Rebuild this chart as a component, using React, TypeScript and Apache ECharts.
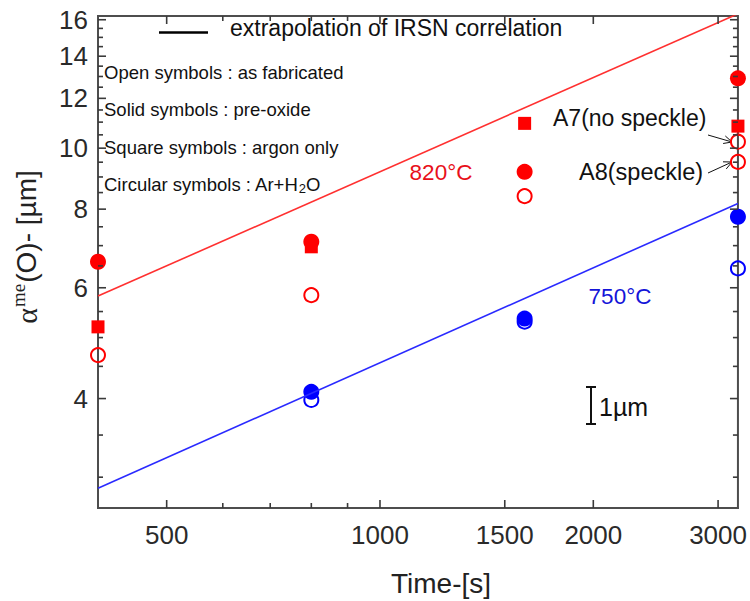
import React, { useEffect, useRef } from "react";
import * as echarts from "echarts";

// ---------- axis ranges & ticks ----------
const X_MIN = 400;
const X_MAX = 3200;
const Y_MIN = 2.68;
const Y_MAX = 16.22;
const xMajorTicks = [500, 1000, 1500, 2000, 3000];
const xMinorTicks = [600, 700, 800, 900];
const yMajorTicks = [4, 6, 8, 10, 12, 14, 16];
const yMinorTicks = [3, 3.5, 4.5, 5, 5.5, 6.5, 7, 7.5, 8.5, 9, 9.5, 10.5, 11, 11.5, 12.5, 13, 13.5, 14.5, 15, 15.5];

// ---------- data (time in s, alpha in µm) ----------
const redSolidCircleTimes = [400, 800, 1600, 3200];
const redSolidCircleValues = [6.6, 7.1, 9.17, 12.91];
const redSolidSquareTimes = [400, 800, 1600, 3200];
const redSolidSquareValues = [5.2, 6.97, 10.95, 10.84];
const redOpenCircleTimes = [400, 800, 1600, 3200, 3200];
const redOpenCircleValues = [4.69, 5.84, 8.39, 10.24, 9.51];
const blueSolidCircleTimes = [800, 1600, 3200];
const blueSolidCircleValues = [4.1, 5.36, 7.78];
const blueOpenCircleTimes = [800, 1600, 3200];
const blueOpenCircleValues = [3.98, 5.3, 6.44];
const correlationTimes = [400, 3200];
const correlation820 = [5.82, 16.35];
const correlation750 = [2.88, 8.17];

const L = (v: number) => Math.log10(v);
const pairs = (ts: number[], vs: number[]) => ts.map((t, i) => [L(t), L(vs[i])]);

const FONT = "'Liberation Sans', Arial, Helvetica, sans-serif";
const SERIF = "'Liberation Serif', 'Times New Roman', serif";
const AXIS_COLOR = "#4d4d4d";
const TICK_COLOR = "#3a3a3a";
const RED = "#ff0000";
const BLUE = "#0000ff";
const MAJOR_LEN = 8;
const MINOR_LEN = 5;

function arrow(x1: number, y1: number, x2: number, y2: number) {
  const a = Math.atan2(y2 - y1, x2 - x1);
  const h = 9;
  const s = 0.45;
  return [
    { type: "line", shape: { x1, y1, x2, y2 }, style: { stroke: "#111", lineWidth: 1 } },
    {
      type: "polyline",
      shape: {
        points: [
          [x2 - h * Math.cos(a - s), y2 - h * Math.sin(a - s)],
          [x2, y2],
          [x2 - h * Math.cos(a + s), y2 - h * Math.sin(a + s)],
        ],
      },
      style: { stroke: "#111", lineWidth: 1, fill: "none" },
    },
  ];
}

// tick data for custom series: [x, y, isMajor]
const xTickData = [
  ...xMajorTicks.map((t) => [L(t), L(Y_MIN), 1]),
  ...xMinorTicks.map((t) => [L(t), L(Y_MIN), 0]),
];
const yTickData = [
  ...yMajorTicks.map((v) => [L(X_MIN), L(v), 1]),
  ...yMinorTicks.map((v) => [L(X_MIN), L(v), 0]),
];

export default function App() {
  const ref = useRef<HTMLDivElement>(null);
  useEffect(() => {
    if (!ref.current) return;
    const chart = echarts.init(ref.current, null, { renderer: "svg" });
    const solid = (color: string, symbol: string, size: number) => ({
      type: "scatter",
      symbol,
      symbolSize: size,
      clip: false,
      itemStyle: { color, opacity: 1 },
    });
    const open = (color: string) => ({
      type: "scatter",
      symbol: "circle",
      symbolSize: 14,
      clip: false,
      itemStyle: { color: "rgba(255,255,255,0)", borderColor: color, borderWidth: 2, opacity: 1 },
    });
    const option = {
      animation: false,
      backgroundColor: "#ffffff",
      grid: {
        left: 98,
        right: 12,
        top: 16,
        bottom: 93,
        containLabel: false,
        show: true,
        borderColor: AXIS_COLOR,
        borderWidth: 2,
      },
      xAxis: {
        type: "value",
        min: L(X_MIN),
        max: L(X_MAX),
        axisLine: { show: true, onZero: false, lineStyle: { color: AXIS_COLOR, width: 2 } },
        axisTick: { show: false },
        axisLabel: {
          show: true,
          customValues: xMajorTicks.map(L),
          formatter: (v: number) => String(Math.round(Math.pow(10, v))),
          fontSize: 26,
          fontFamily: FONT,
          color: "#2a2a2a",
          margin: 14,
        },
        splitLine: { show: false },
      },
      yAxis: {
        type: "value",
        min: L(Y_MIN),
        max: L(Y_MAX),
        axisLine: { show: true, onZero: false, lineStyle: { color: AXIS_COLOR, width: 2 } },
        axisTick: { show: false },
        axisLabel: {
          show: true,
          customValues: yMajorTicks.map(L),
          formatter: (v: number) => String(Math.round(Math.pow(10, v))),
          fontSize: 26,
          fontFamily: FONT,
          color: "#2a2a2a",
          margin: 10,
        },
        splitLine: { show: false },
      },
      series: [
        {
          type: "custom",
          clip: false,
          silent: true,
          z: 5,
          encode: { x: 0, y: 1 },
          data: xTickData,
          renderItem: (params: any, api: any) => {
            const len = api.value(2) ? MAJOR_LEN : MINOR_LEN;
            const b = api.coord([api.value(0), L(Y_MIN)]);
            const t = api.coord([api.value(0), L(Y_MAX)]);
            return {
              type: "group",
              children: [
                { type: "line", shape: { x1: b[0], y1: b[1], x2: b[0], y2: b[1] - len }, style: { stroke: TICK_COLOR, lineWidth: 1.6 } },
                { type: "line", shape: { x1: t[0], y1: t[1], x2: t[0], y2: t[1] + len }, style: { stroke: TICK_COLOR, lineWidth: 1.6 } },
              ],
            };
          },
        },
        {
          type: "custom",
          clip: false,
          silent: true,
          z: 5,
          encode: { x: 0, y: 1 },
          data: yTickData,
          renderItem: (params: any, api: any) => {
            const len = api.value(2) ? MAJOR_LEN : MINOR_LEN;
            const l = api.coord([L(X_MIN), api.value(1)]);
            const r = api.coord([L(X_MAX), api.value(1)]);
            return {
              type: "group",
              children: [
                { type: "line", shape: { x1: l[0], y1: l[1], x2: l[0] + len, y2: l[1] }, style: { stroke: TICK_COLOR, lineWidth: 1.6 } },
                { type: "line", shape: { x1: r[0], y1: r[1], x2: r[0] - len, y2: r[1] }, style: { stroke: TICK_COLOR, lineWidth: 1.6 } },
              ],
            };
          },
        },
        {
          type: "line",
          data: pairs(correlationTimes, correlation820),
          showSymbol: false,
          lineStyle: { color: "#ff3030", width: 1.6 },
          clip: true,
        },
        {
          type: "line",
          data: pairs(correlationTimes, correlation750),
          showSymbol: false,
          lineStyle: { color: "#2a2aff", width: 1.6 },
          clip: true,
        },
        { ...open(BLUE), data: pairs(blueOpenCircleTimes, blueOpenCircleValues) },
        { ...solid(BLUE, "circle", 16), data: pairs(blueSolidCircleTimes, blueSolidCircleValues) },
        { ...solid(RED, "rect", 13), data: pairs(redSolidSquareTimes, redSolidSquareValues) },
        { ...open(RED), data: pairs(redOpenCircleTimes, redOpenCircleValues) },
        { ...solid(RED, "circle", 16), data: pairs(redSolidCircleTimes, redSolidCircleValues) },
      ],
      graphic: [
        // legend line and text
        { type: "line", shape: { x1: 159, y1: 32.5, x2: 208, y2: 32.5 }, style: { stroke: "#000", lineWidth: 2.5 } },
        {
          type: "text",
          x: 230,
          y: 28,
          style: { text: "extrapolation of IRSN correlation", font: `23px ${FONT}`, fill: "#111", verticalAlign: "middle" },
        },
        { type: "text", x: 104, y: 72, style: { text: "Open symbols : as fabricated", font: `18.5px ${FONT}`, fill: "#111", verticalAlign: "middle" } },
        { type: "text", x: 104, y: 109, style: { text: "Solid symbols : pre-oxide", font: `18.5px ${FONT}`, fill: "#111", verticalAlign: "middle" } },
        { type: "text", x: 104, y: 147, style: { text: "Square symbols : argon only", font: `18.5px ${FONT}`, fill: "#111", verticalAlign: "middle" } },
        {
          type: "text",
          x: 104,
          y: 184,
          style: {
            text: "{t|Circular symbols : Ar+H}{s|2}{t|O}",
            verticalAlign: "middle",
            rich: {
              t: { fontSize: 18.5, fontFamily: FONT, fill: "#111", lineHeight: 22 },
              s: { fontSize: 13, fontFamily: FONT, fill: "#111", lineHeight: 22, verticalAlign: "bottom", padding: [8, 0, 0, 0] },
            },
          },
        },
        { type: "text", x: 441, y: 172, style: { text: "820°C", font: `22.5px ${FONT}`, fill: "#e8101a", align: "center", verticalAlign: "middle" } },
        { type: "text", x: 620, y: 296, style: { text: "750°C", font: `22.5px ${FONT}`, fill: "#1414d8", align: "center", verticalAlign: "middle" } },
        { type: "text", x: 553, y: 118, style: { text: "A7(no speckle)", font: `23px ${FONT}`, fill: "#111", verticalAlign: "middle" } },
        { type: "text", x: 579, y: 172, style: { text: "A8(speckle)", font: `23.5px ${FONT}`, fill: "#111", verticalAlign: "middle" } },
        ...arrow(708, 135, 732, 142),
        ...arrow(708, 173, 732, 162),
        // 1 µm scale bar
        { type: "line", shape: { x1: 591, y1: 387, x2: 591, y2: 424 }, style: { stroke: "#111", lineWidth: 2 } },
        { type: "line", shape: { x1: 586, y1: 387, x2: 596, y2: 387 }, style: { stroke: "#111", lineWidth: 2 } },
        { type: "line", shape: { x1: 586, y1: 424, x2: 596, y2: 424 }, style: { stroke: "#111", lineWidth: 2 } },
        { type: "text", x: 599, y: 407, style: { text: "1µm", font: `25px ${FONT}`, fill: "#111", verticalAlign: "middle" } },
        // axis titles
        {
          type: "text",
          x: 441,
          y: 583,
          style: { text: "Time-[s]", font: `28px ${FONT}`, fill: "#222", align: "center", verticalAlign: "middle" },
        },
        {
          type: "text",
          x: 26,
          y: 247,
          rotation: Math.PI / 2,
          style: {
            text: "{a|α}{b|me}{c|(O)- [µm]}",
            align: "center",
            verticalAlign: "middle",
            rich: {
              a: { fontSize: 30, fontFamily: SERIF, fill: "#222", lineHeight: 34 },
              b: { fontSize: 19, fontFamily: SERIF, fill: "#222", lineHeight: 34, verticalAlign: "top", padding: [0, 1, 0, 1] },
              c: { fontSize: 28, fontFamily: FONT, fill: "#222", lineHeight: 34 },
            },
          },
        },
      ],
    };
    chart.setOption(option as any);
    return () => chart.dispose();
  }, []);
  return (
    <div
      ref={ref}
      style={{ position: "fixed", left: 0, top: 0, width: 750, height: 601, background: "#fff" }}
    />
  );
}
